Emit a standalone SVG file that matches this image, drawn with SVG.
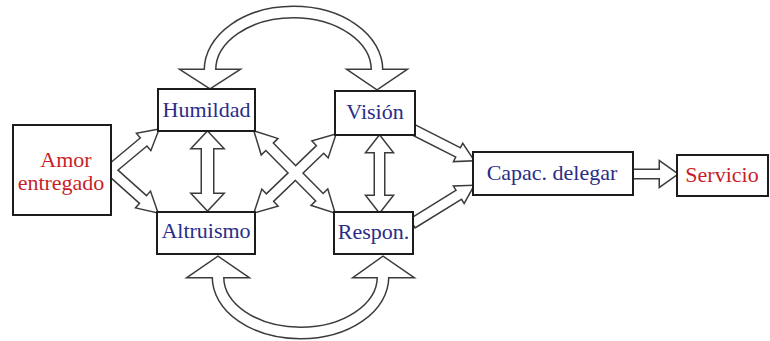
<svg xmlns="http://www.w3.org/2000/svg" width="770" height="341" viewBox="0 0 770 341">
<style>
.dk{fill:none;stroke:#3c3c3c;stroke-width:3;stroke-linejoin:miter}
.wh{fill:#fff;stroke:none}
.bd{fill:none;stroke:#3c3c3c;stroke-width:13}
.bw{fill:none;stroke:#fff;stroke-width:10}
.box{fill:#fff;stroke:#1c1c1c;stroke-width:2}
.t{font-family:"Liberation Serif","Times New Roman",serif;font-size:22px;text-anchor:middle}
.b{fill:#2a2d86}
.r{fill:#c81e2a}
</style>
<defs>
<polygon id="a1" points="0,-4.5 44.5,-4.5 44.5,-10 62.5,0 44.5,10 44.5,4.5 0,4.5" transform="translate(110,170) rotate(-39.8)"/>
<polygon id="a2" points="0,-4.5 45,-4.5 45,-10 63,0 45,10 45,4.5 0,4.5" transform="translate(110,170) rotate(41.8)"/>
<polygon id="x1" points="0,0 20,-10.5 20,-4.5 92.4,-4.5 92.4,-10.5 112.4,0 92.4,10.5 92.4,4.5 20,4.5 20,10.5" transform="translate(255,132) rotate(45.35)"/>
<polygon id="x2" points="0,0 20,-10.5 20,-4.5 91,-4.5 91,-10.5 111,0 91,10.5 91,4.5 20,4.5 20,10.5" transform="translate(255,212) rotate(-43.9)"/>
<polygon id="v1" points="207.5,132 222.5,148 213,148 213,194 222.5,194 207.5,210 192.5,194 202,194 202,148 192.5,148"/>
<polygon id="v2" points="379.5,136 392,152 384,152 384,196 392,196 379.5,212 367,196 375,196 375,152 367,152"/>
<polygon id="c1" points="0,-4.5 50.2,-4.5 50.2,-9 66.2,0 50.2,9 50.2,4.5 0,4.5" transform="translate(414,130) rotate(26.95)"/>
<polygon id="c2" points="0,-4.5 54.5,-4.5 54.5,-9 70.5,0 54.5,9 54.5,4.5 0,4.5" transform="translate(413,223) rotate(-31.66)"/>
<polygon id="s1" points="633,170 660,170 660,162 677,174 660,186 660,178 633,178"/>
<polygon id="h1" points="182,70 238,70 210,88"/>
<polygon id="h2" points="349,70 405,70 377,89"/>
<polygon id="h3" points="189,277 247,277 218,257"/>
<polygon id="h4" points="355,277 412,277 383,257"/>
<path id="p1" d="M210,77 L210,70 A83.5 58 0 0 1 377,70 L377,77"/>
<path id="p2" d="M218,270 L218,277 A82.5 56 0 0 0 383,277 L383,270"/>
</defs>
<g id="connectors">
<use href="#p1" class="bd"/><use href="#p2" class="bd"/>
<use href="#a1" class="dk"/><use href="#a2" class="dk"/>
<use href="#x1" class="dk"/><use href="#x2" class="dk"/>
<use href="#v1" class="dk"/><use href="#v2" class="dk"/>
<use href="#c1" class="dk"/><use href="#c2" class="dk"/>
<use href="#s1" class="dk"/>
<use href="#h1" class="dk"/><use href="#h2" class="dk"/><use href="#h3" class="dk"/><use href="#h4" class="dk"/>
<use href="#p1" class="bw"/><use href="#p2" class="bw"/>
<use href="#a1" class="wh"/><use href="#a2" class="wh"/>
<use href="#x1" class="wh"/><use href="#x2" class="wh"/>
<use href="#v1" class="wh"/><use href="#v2" class="wh"/>
<use href="#c1" class="wh"/><use href="#c2" class="wh"/>
<use href="#s1" class="wh"/>
<use href="#h1" class="wh"/><use href="#h2" class="wh"/><use href="#h3" class="wh"/><use href="#h4" class="wh"/>
</g>
<g id="amor"><rect class="box" x="13" y="125" width="98" height="90"/><text class="t r" x="66" y="167">Amor</text><text class="t r" x="61" y="190">entregado</text></g>
<g id="humildad"><rect class="box" x="158" y="89" width="97" height="42"/><text class="t b" x="206.5" y="117">Humildad</text></g>
<g id="vision"><rect class="box" x="335" y="91" width="80" height="44"/><text class="t b" x="375" y="119">Visión</text></g>
<g id="altruismo"><rect class="box" x="157" y="212" width="98" height="42"/><text class="t b" x="206" y="238">Altruismo</text></g>
<g id="respon"><rect class="box" x="334" y="212" width="79" height="42"/><text class="t b" x="373.5" y="239">Respon.</text></g>
<g id="capac"><rect class="box" x="473" y="152" width="160" height="43"/><text class="t b" x="552" y="180">Capac. delegar</text></g>
<g id="servicio"><rect class="box" x="677" y="155" width="91" height="41"/><text class="t r" x="722" y="182">Servicio</text></g>
</svg>
